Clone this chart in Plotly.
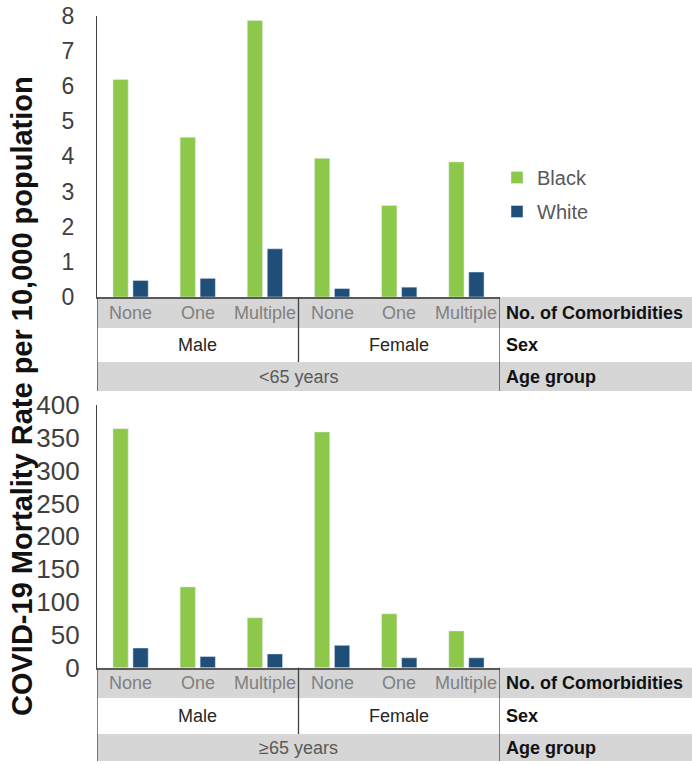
import plotly.graph_objects as go

W, H = 692, 765
FONT = "Liberation Sans, Arial, sans-serif"

categories = ["None", "One", "Multiple", "None", "One", "Multiple"]
sexes = ["Male", "Female"]
age_top = "<65 years"
age_bottom = "≥65 years"
row_labels = ["No. of Comorbidities", "Sex", "Age group"]

black_under65 = [6.18, 4.54, 7.86, 3.94, 2.60, 3.84]
white_under65 = [0.47, 0.53, 1.37, 0.24, 0.28, 0.71]
black_over65 = [364, 123, 76, 359, 82, 56]
white_over65 = [30, 17, 21, 34, 15, 15]

GREEN = "#8DC84A"
BLUE = "#1F4E79"
GRAY_ROW = "#D6D6D6"
LINE = "#404040"

def py(p):
    return 1 - p / H

def px(p):
    return p / W

xs = list(range(len(categories)))

fig = go.Figure()
fig.add_trace(go.Bar(x=xs, y=black_under65, name="Black", marker_color=GREEN,
                     xaxis="x", yaxis="y", legendgroup="b"))
fig.add_trace(go.Bar(x=xs, y=white_under65, name="White", marker_color=BLUE,
                     xaxis="x", yaxis="y", legendgroup="w"))
fig.add_trace(go.Bar(x=xs, y=black_over65, name="Black", marker_color=GREEN,
                     xaxis="x2", yaxis="y2", showlegend=False))
fig.add_trace(go.Bar(x=xs, y=white_over65, name="White", marker_color=BLUE,
                     xaxis="x2", yaxis="y2", showlegend=False))

xdom = [px(97), px(500)]
panels = [
    ("x", "y", 15.5, 297, [297, 328, 362, 391], age_top),
    ("x2", "y2", 405, 667.7, [667.7, 698, 734, 761], age_bottom),
]

shapes = []
annotations = []
for xr, yr, top, base, rows, age in panels:
    r0, r1, r2, r3 = rows
    for a, b in [(r0, r1), (r2, r3)]:
        shapes.append(dict(type="rect", xref="paper", yref="paper",
                           x0=px(97), x1=1, y0=py(b), y1=py(a),
                           fillcolor=GRAY_ROW, line_width=0, layer="below"))
    shapes.append(dict(type="line", xref=xr, yref="paper", x0=-0.5, x1=-0.5,
                       y0=py(r3), y1=py(base), line=dict(color=LINE, width=1.3)))
    shapes.append(dict(type="line", xref=xr, yref="paper", x0=2.5, x1=2.5,
                       y0=py(r2), y1=py(r0), line=dict(color=LINE, width=1.3)))
    shapes.append(dict(type="line", xref=xr, yref="paper", x0=5.5, x1=5.5,
                       y0=py(r3), y1=py(r0), line=dict(color=LINE, width=1.3)))
    for i, c in enumerate(categories):
        annotations.append(dict(x=i, y=py((r0 + r1) / 2), xref=xr, yref="paper",
                                text=c, showarrow=False, xanchor="center", yanchor="middle",
                                font=dict(family=FONT, size=18, color="#808080")))
    for j, s in enumerate(sexes):
        annotations.append(dict(x=1 + 3 * j, y=py((r1 + r2) / 2), xref=xr, yref="paper",
                                text=s, showarrow=False, xanchor="center", yanchor="middle",
                                font=dict(family=FONT, size=18, color="#262626")))
    annotations.append(dict(x=2.5, y=py((r2 + r3) / 2), xref=xr, yref="paper",
                            text=age, showarrow=False, xanchor="center", yanchor="middle",
                            font=dict(family=FONT, size=18, color="#595959")))
    for k, lab in enumerate(row_labels):
        a, b = rows[k], rows[k + 1]
        annotations.append(dict(x=px(504), y=py((a + b) / 2), xref="paper", yref="paper",
                                text="<b>" + lab + "</b>", showarrow=False,
                                xanchor="left", yanchor="middle",
                                font=dict(family=FONT, size=18, color="#111111")))

annotations.append(dict(x=px(22), y=py(396), xref="paper", yref="paper",
                        xanchor="center", yanchor="middle",
                        text="<b>COVID-19 Mortality Rate per 10,000 population</b>",
                        textangle=-90, showarrow=False,
                        font=dict(family=FONT, size=29, color="#111111")))

axis_x = dict(domain=xdom, range=[-0.5, 5.5], showticklabels=False, ticks="",
              showgrid=False, zeroline=False, showline=True, linecolor="#595959",
              linewidth=1.5, fixedrange=True, automargin=False)

fig.update_layout(
    width=W, height=H, autosize=False,
    margin=dict(l=0, r=0, t=0, b=0, pad=0, autoexpand=False),
    paper_bgcolor="white", plot_bgcolor="rgba(0,0,0,0)",
    barmode="group", bargap=0.405, bargroupgap=0.235,
    xaxis=dict(axis_x, anchor="y"),
    xaxis2=dict(axis_x, anchor="y2"),
    yaxis=dict(domain=[py(297), py(15.5)], range=[0, 8], dtick=1, anchor="x",
               showgrid=False, zeroline=False, showline=True, linecolor=LINE,
               linewidth=1.3, ticks="", ticklabelstandoff=17, automargin=False,
               tickfont=dict(family=FONT, size=23, color="#404040")),
    yaxis2=dict(domain=[py(667.7), py(405)], range=[0, 400], dtick=50, anchor="x2",
                showgrid=False, zeroline=False, showline=True, linecolor=LINE,
                linewidth=1.3, ticks="", ticklabelstandoff=11, automargin=False,
                tickfont=dict(family=FONT, size=26, color="#404040")),
    legend=dict(x=px(497), y=py(158), xanchor="left", yanchor="top",
                font=dict(family=FONT, size=20, color="#595959"),
                traceorder="grouped", tracegroupgap=5, bgcolor="rgba(0,0,0,0)"),
    shapes=shapes,
    annotations=annotations,
)

fig.write_html("out.html", config={"displayModeBar": False},
               post_script="document.body.style.margin='0';document.body.style.padding='0';")
